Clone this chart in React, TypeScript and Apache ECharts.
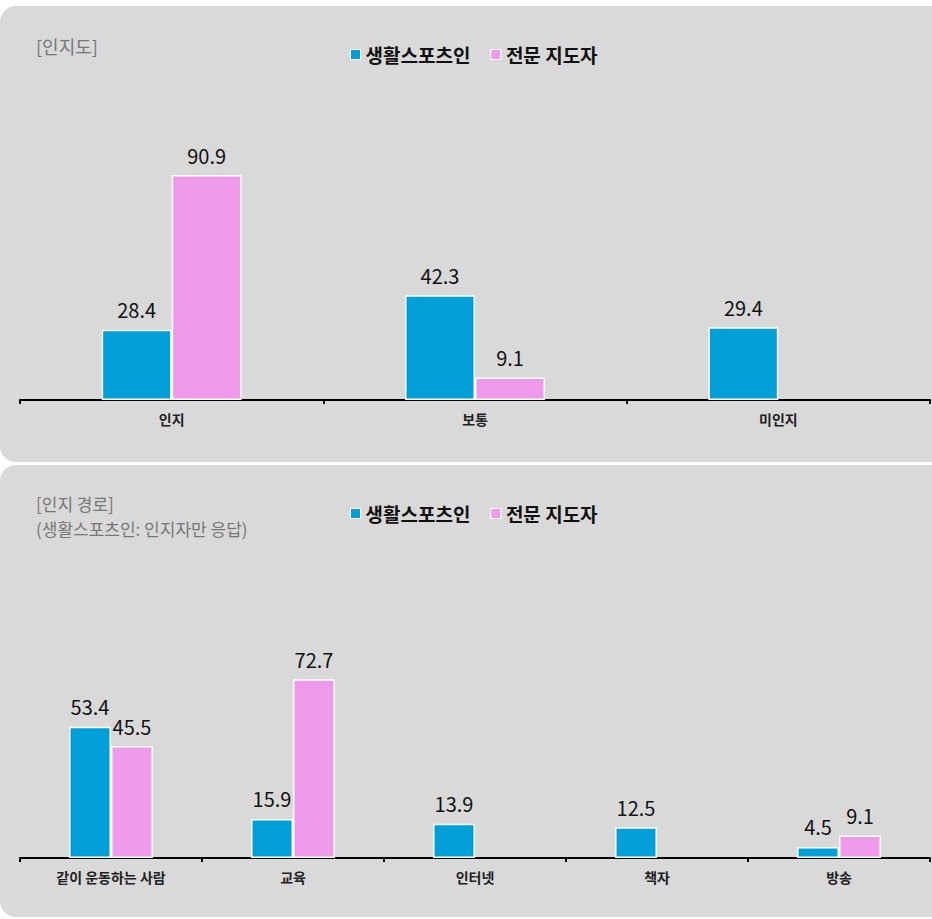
import React, { useEffect, useRef } from "react";
import * as echarts from "echarts";

const topCategories = ["인지", "보통", "미인지"];
const topSports = [28.4, 42.3, 29.4];
const topExperts = [90.9, 9.1, null];

const bottomCategories = ["같이 운동하는 사람", "교육", "인터넷", "책자", "방송"];
const bottomSports = [53.4, 15.9, 13.9, 12.5, 4.5];
const bottomExperts = [45.5, 72.7, null, null, 9.1];

const seriesNames = ["생활스포츠인", "전문 지도자"];
const topTitle = "[인지도]";
const bottomTitleLines = ["[인지 경로]", "(생활스포츠인: 인지자만 응답)"];

const BLUE = "#009fd8";
const PINK = "#ee99e9";
const FONT = "'Noto Sans CJK KR', 'Noto Sans', sans-serif";

export default function App() {
  const ref = useRef<HTMLDivElement>(null);
  useEffect(() => {
    document.body.style.margin = "0";
    document.body.style.background = "#ffffff";
    const chart = echarts.init(ref.current!, null, { renderer: "svg" });
    const label = {
      show: true,
      position: "top",
      distance: 10,
      fontSize: 20,
      color: "#111",
      fontFamily: FONT,
    };
    const xAxisBase = {
      type: "category",
      axisLine: { lineStyle: { color: "#000", width: 2 } },
      axisTick: { show: true, length: 4, lineStyle: { color: "#000", width: 2 } },
      axisLabel: { fontSize: 14, fontWeight: "bold", color: "#222", margin: 12, fontFamily: FONT },
    };
    const yAxisBase = { type: "value", min: 0, max: 100, show: false, splitLine: { show: false } };
    const legendBase = {
      data: seriesNames,
      left: 345,
      itemWidth: 10,
      itemHeight: 10,
      itemGap: 20,
      icon: "rect",
      itemStyle: { borderColor: "#fff", borderWidth: 1 },
      textStyle: { fontSize: 19, fontWeight: "bold", color: "#111", fontFamily: FONT },
    };
    chart.setOption({
      animation: false,
      textStyle: { fontFamily: FONT },
      graphic: [
        { type: "rect", z: -10, shape: { x: 0, y: 6, width: 960, height: 456, r: 16 }, style: { fill: "#d9d9d9" } },
        { type: "rect", z: -10, shape: { x: 0, y: 465, width: 960, height: 452, r: 16 }, style: { fill: "#d9d9d9" } },
        { type: "text", left: 36, top: 37, style: { text: topTitle, fontSize: 18, fill: "#777", fontFamily: FONT } },
        { type: "text", left: 36, top: 495, style: { text: bottomTitleLines[0], fontSize: 17, fill: "#777", fontFamily: FONT } },
        { type: "text", left: 36, top: 520, style: { text: bottomTitleLines[1], fontSize: 17, fill: "#777", fontFamily: FONT } },
      ],
      legend: [
        { ...legendBase, top: 40 },
        { ...legendBase, top: 499 },
      ],
      grid: [
        { left: 20, right: 2, top: 152.5, bottom: 519 },
        { left: 20, right: 2, top: 612, bottom: 61 },
      ],
      xAxis: [
        { ...xAxisBase, gridIndex: 0, data: topCategories },
        { ...xAxisBase, gridIndex: 1, data: bottomCategories },
      ],
      yAxis: [
        { ...yAxisBase, gridIndex: 0 },
        { ...yAxisBase, gridIndex: 1 },
      ],
      series: [
        {
          name: seriesNames[0], type: "bar", xAxisIndex: 0, yAxisIndex: 0, data: topSports,
          barWidth: 70, barGap: "0%", itemStyle: { color: BLUE, borderColor: "#fff", borderWidth: 1.5 }, label,
        },
        {
          name: seriesNames[1], type: "bar", xAxisIndex: 0, yAxisIndex: 0, data: topExperts,
          barWidth: 70, barGap: "0%", itemStyle: { color: PINK, borderColor: "#fff", borderWidth: 1.5 }, label,
        },
        {
          name: seriesNames[0], type: "bar", xAxisIndex: 1, yAxisIndex: 1, data: bottomSports,
          barWidth: 42, barGap: "0%", itemStyle: { color: BLUE, borderColor: "#fff", borderWidth: 1.5 }, label,
        },
        {
          name: seriesNames[1], type: "bar", xAxisIndex: 1, yAxisIndex: 1, data: bottomExperts,
          barWidth: 42, barGap: "0%", itemStyle: { color: PINK, borderColor: "#fff", borderWidth: 1.5 }, label,
        },
      ],
    });
    return () => chart.dispose();
  }, []);
  return <div ref={ref} style={{ width: 932, height: 919 }} />;
}
